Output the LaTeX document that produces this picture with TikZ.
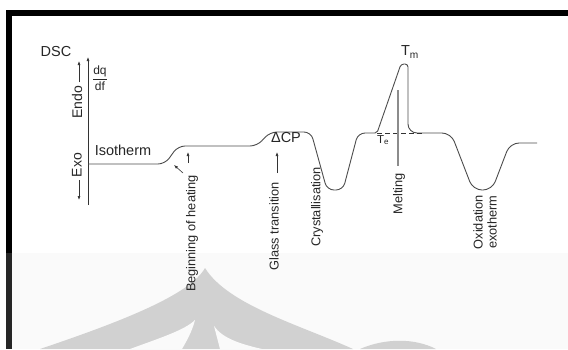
\documentclass[tikz,border=0pt]{standalone}
\usepackage{amsmath}
\usepackage{fontspec}
\setmainfont{Liberation Sans}
\usetikzlibrary{arrows, arrows.meta}

\begin{document}
\begin{tikzpicture}[x=1pt, y=-1pt,
    every node/.style = {inner sep=0pt, text=black!85},
    lbl/.style = {font=\fontsize{14.5}{15}\selectfont},
    vlbl/.style = {rotate=90, anchor=east, align=center,
        font=\fontsize{12.8}{14}\selectfont},
    curve/.style = {line width=0.9pt, draw=black!70},
    pointer/.style = {line width=0.6pt, draw=black!80,
        -{Latex[length=4pt, width=3pt]}}]
\useasboundingbox (0,0) rectangle (568,349);
% frame and watermark
\fill[black!2] (12,253) rectangle (568,349);
\fill[black!18] (205,268) .. controls (190,295) and (120,322) .. (40,349)
    -- (353,349) .. controls (300,325) and (228,305) .. cycle;
\fill[black!2] (130,349) .. controls (160,338) and (185,330) .. (195,320)
    .. controls (192,332) and (186,342) .. (182,349) -- cycle;
\fill[black!2] (214,326) .. controls (222,338) and (240,344) .. (262,349)
    -- (220,349) -- cycle;
\fill[black!18] (360,349) .. controls (385,338) and (415,338) .. (436,349) -- cycle;
\fill[black] (6,10) rectangle (568,16);
\fill[black] (6,10) rectangle (12,253);
\fill[black!85] (6,253) rectangle (12,349);

% axes
\coordinate (axbot) at (88,205);
\coordinate (axtop) at (88,57);
\coordinate (base) at (88,164);
\draw[pointer] (axbot) -- (axtop);
\node[lbl] (dsc) at (56,52) {DSC};
\node (dqdf) at (100,78) {\fontsize{12}{12}\selectfont$\dfrac{\text{dq}}{\text{df}}$};
\node[vlbl, anchor=center, font=\fontsize{14}{14}\selectfont] (endo) at (77,102) {Endo};
\node[vlbl, anchor=center, font=\fontsize{14}{14}\selectfont] (exo) at (77,165) {Exo};
\coordinate (endotip) at (79,61);
\coordinate (exotip) at (79,200);
\draw[pointer] ([xshift=2pt, yshift=3pt]endo.east) -- (endotip);
\draw[pointer] ([xshift=2pt, yshift=-3pt]exo.west) -- (exotip);
\node[lbl] (iso) at (123,150) {Isotherm};

% DSC trace
\draw[curve] (base) [rounded corners=7pt] -- (165,164) -- (178,146)
    -- (257,146) -- (270,132) -- (311,132) -- (327,190) -- (343,190)
    -- (358,133) [rounded corners=2pt] -- (377,133) [rounded corners=3pt]
    -- (401,64) -- (408,64) [rounded corners=9pt] -- (408,133)
    -- (451,133) -- (473,190) -- (492,190) -- (510,143) -- (537,143);
\coordinate (onset) at (377,133);
\coordinate (dashend) at (423,133);
\draw[line width=0.7pt, black!80, dash pattern=on 5pt off 3pt] (onset) -- (dashend);

% labels on the trace
\node[lbl] (dcp) at (286,138) {ΔCP};
\node[lbl] (tm) at (410,52) {T$_{\text{m}}$};
\node[lbl, font=\fontsize{11.5}{12}\selectfont] (te) at (383,140) {T$_{\text{e}}$};

\node[vlbl] (heat) at (192,175) {Beginning of heating};
\node[vlbl] (glass) at (274,182) {Glass transition};
\node[vlbl] (cryst) at (317,167) {Crystallisation};
\node[vlbl] (melt) at (399,173) {Melting};
\node[vlbl] (oxid) at (485,195) {Oxidation\\exotherm};

\coordinate (heattip) at (188,152);
\coordinate (heattail) at (183,173);
\coordinate (steptip) at (174,165);
\coordinate (glasstip) at (277,152);
\coordinate (melttop) at (398,90);
\draw[pointer] ([xshift=-4pt, yshift=12pt]heat.east) -- (heattip);
\draw[pointer] (heattail) -- (steptip);
\draw[pointer] ([xshift=3pt, yshift=9pt]glass.east) -- (glasstip);
\draw[line width=1.2pt, black!45] (melttop) -- ([xshift=-1pt, yshift=7pt]melt.east);
\end{tikzpicture}
\end{document}
